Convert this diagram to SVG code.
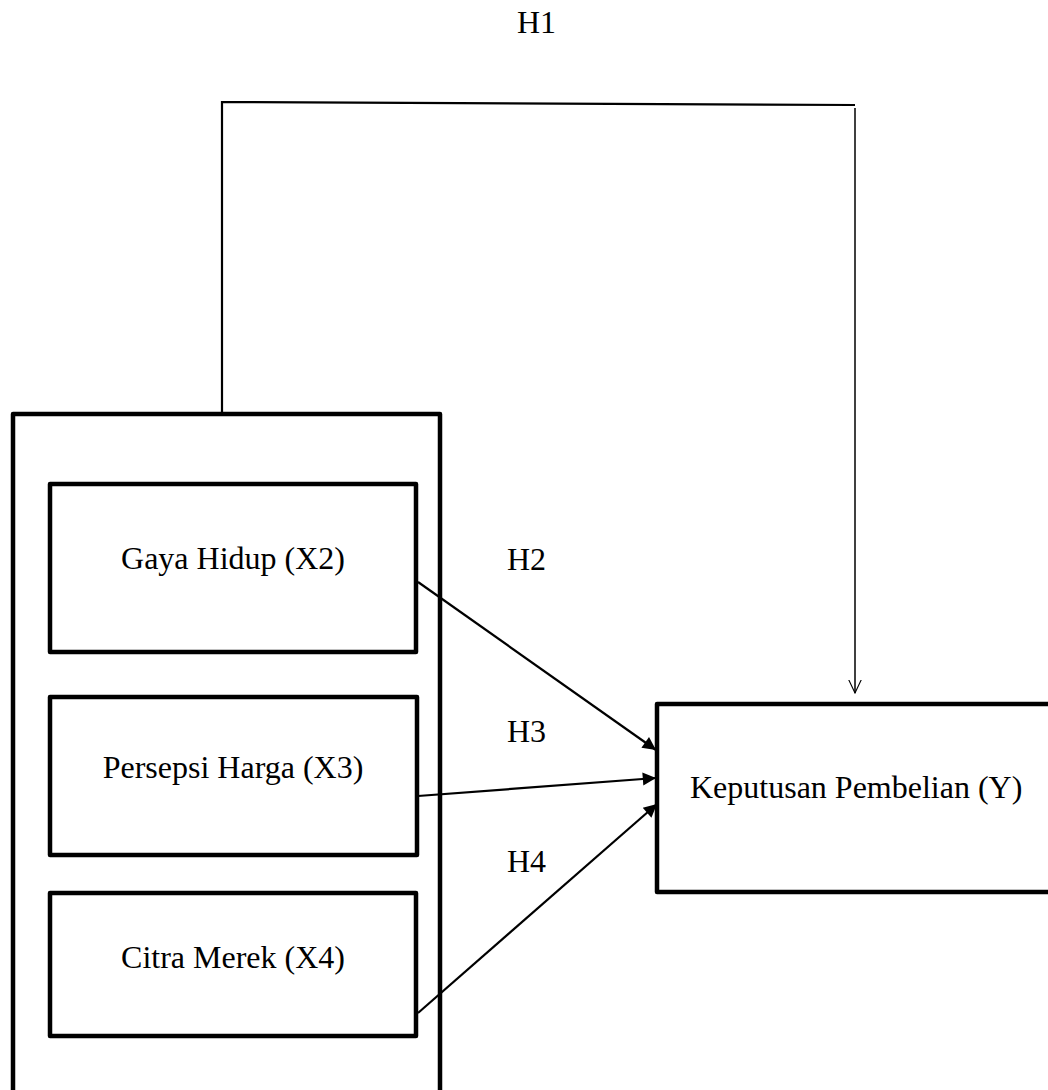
<svg xmlns="http://www.w3.org/2000/svg" width="1048" height="1090" viewBox="0 0 1048 1090">
<style>
text{font-family:"Liberation Serif","Times New Roman",serif;font-size:32px;fill:#000}
.box{fill:none;stroke:#000;stroke-width:4.5;stroke-linejoin:round}
.ln{fill:none;stroke:#000;stroke-width:2.2}
.thin{fill:none;stroke:#000;stroke-width:1.5}
</style>
<defs>
<marker id="ah" viewBox="0 0 10 10" refX="10" refY="5" markerWidth="7" markerHeight="6" markerUnits="strokeWidth" orient="auto">
<path d="M0,0 L10,5 L0,10 Z" fill="#000"/>
</marker>
<marker id="open" viewBox="0 0 20 20" refX="19" refY="10" markerWidth="14" markerHeight="14" markerUnits="userSpaceOnUse" orient="auto">
<path d="M0,1 L19,10 L0,19" fill="none" stroke="#000" stroke-width="1.6"/>
</marker>
</defs>
<rect width="1048" height="1090" fill="#fff"/>
<g id="group-x">
<rect class="box" x="13" y="414" width="427" height="690"/>
</g>
<g id="node-x2">
<rect class="box" x="50" y="484" width="366" height="168"/>
<text x="233" y="569" text-anchor="middle">Gaya Hidup (X2)</text>
</g>
<g id="node-x3">
<rect class="box" x="50" y="697" width="367" height="158"/>
<text x="233" y="778" text-anchor="middle">Persepsi Harga (X3)</text>
</g>
<g id="node-x4">
<rect class="box" x="50" y="893" width="366" height="143"/>
<text x="233" y="968" text-anchor="middle">Citra Merek (X4)</text>
</g>
<g id="node-y">
<rect class="box" x="657" y="704" width="400" height="188"/>
<text x="690" y="798">Keputusan Pembelian (Y)</text>
</g>
<g id="connectors">
<polyline class="ln" points="222,414 222,102 855,105"/>
<line class="thin" x1="855" y1="108" x2="855" y2="693" marker-end="url(#open)"/>
<line class="ln" x1="418" y1="582" x2="656" y2="750" marker-end="url(#ah)"/>
<line class="ln" x1="418" y1="796" x2="656" y2="778" marker-end="url(#ah)"/>
<line class="ln" x1="418" y1="1013" x2="657" y2="804" marker-end="url(#ah)"/>
</g>
<g id="labels">
<text x="517" y="33">H1</text>
<text x="507" y="570">H2</text>
<text x="507" y="742">H3</text>
<text x="507" y="872">H4</text>
</g>
</svg>
